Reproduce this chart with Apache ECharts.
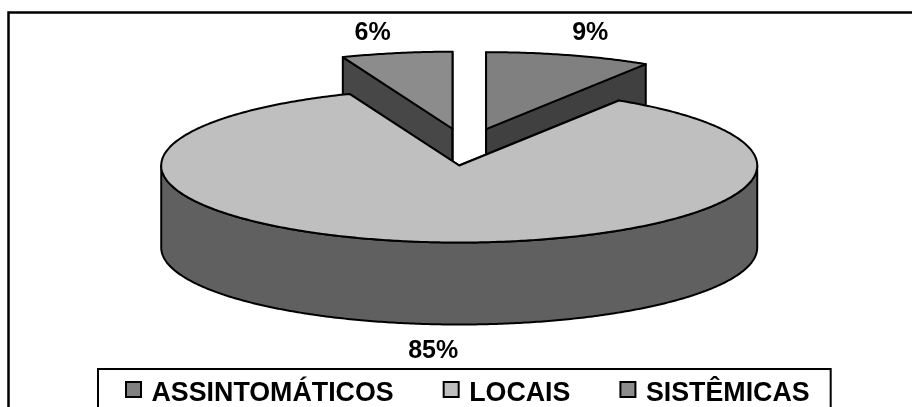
<!DOCTYPE html>
<html>
<head>
<meta charset="utf-8">
<style>html,body{margin:0;padding:0;background:#fff}#chart{width:912px;height:407px}</style>
<script src="https://cdn.jsdelivr.net/npm/echarts@6/dist/echarts.min.js"></script>
</head>
<body>
<div id="chart"></div>
<script>
// Share of cases by presentation, drawn as an exploded 3D pie.
const categories = ['ASSINTOMÁTICOS', 'LOCAIS', 'SISTÊMICAS'];
const shares = [9, 85, 6];
const topColors = ['#808080', '#bfbfbf', '#8c8c8c'];
const sideColors = ['#404040', '#606060', '#474747'];
const drawOrder = [1, 3, 2];
const labelNudges = [[21, -22], [2, 27], [-24, -20]];

const pie = { cx: 466, cy: 147, rx: 298, ry: 77, depth: 82, explode: 72 };
const total = shares.reduce((a, b) => a + b, 0);
const outline = { stroke: '#000', lineWidth: 2, lineJoin: 'round' };
const fontFamily = '"Liberation Sans", Arial, sans-serif';

function sliceAngles(index) {
  const before = shares.slice(0, index).reduce((a, b) => a + b, 0);
  return [before, before + shares[index]].map(v => v / total * Math.PI * 2);
}

function renderSlice(index, value) {
  const [a0, a1] = sliceAngles(index);
  const mid = (a0 + a1) / 2;
  const ox = pie.cx + pie.explode * Math.sin(mid);
  const oy = pie.cy - pie.explode * Math.cos(mid) * pie.ry / pie.rx;
  const rim = (a, drop) => [ox + pie.rx * Math.sin(a), oy - pie.ry * Math.cos(a) + (drop || 0)];
  const sample = (from, to) => {
    const steps = Math.max(2, Math.ceil(Math.abs(to - from) / 0.01));
    const pts = [];
    for (let i = 0; i <= steps; i++) pts.push(rim(from + (to - from) * i / steps));
    return pts;
  };
  const poly = (points, fill) => ({
    type: 'polygon', shape: { points }, style: Object.assign({ fill }, outline)
  });
  const children = [];
  const side = sideColors[index];

  // Radial walls, lowered by the pie's thickness.
  [a0, a1].forEach(a => {
    children.push(poly([[ox, oy], rim(a), rim(a, pie.depth), [ox, oy + pie.depth]], side));
  });

  // Front rim: only the part of the arc facing the viewer.
  const f0 = Math.max(a0, Math.PI / 2), f1 = Math.min(a1, Math.PI * 1.5);
  if (f1 > f0) {
    const upper = sample(f0, f1);
    const lower = upper.map(p => [p[0], p[1] + pie.depth]).reverse();
    children.push(poly(upper.concat(lower), side));
  }

  // Top face.
  children.push(poly([[ox, oy]].concat(sample(a0, a1)), topColors[index]));

  // Percentage label outside the rim.
  const anchor = rim(mid, Math.cos(mid) < 0 ? pie.depth : 0);
  children.push({
    type: 'text',
    style: {
      x: anchor[0] + labelNudges[index][0],
      y: anchor[1] + labelNudges[index][1],
      text: value + '%',
      fill: '#000',
      font: 'bold 25px ' + fontFamily,
      align: 'center',
      verticalAlign: 'middle'
    }
  });
  return { type: 'group', children };
}

const chart = echarts.init(document.getElementById('chart'), null, { renderer: 'canvas' });
chart.setOption({
  animation: false,
  backgroundColor: '#fff',
  graphic: [{
    type: 'rect',
    shape: { x: 8.5, y: 12.5, width: 1000, height: 500 },
    style: { fill: 'none', stroke: '#000', lineWidth: 2.5 },
    z: 0
  }],
  legend: {
    data: categories,
    icon: 'rect',
    left: 98,
    top: 369,
    orient: 'horizontal',
    padding: [11, 21, 60, 27],
    borderColor: '#000',
    borderWidth: 2,
    itemWidth: 15,
    itemHeight: 15,
    itemGap: 49,
    selectedMode: false,
    formatter: name => '{t|' + name + '}',
    textStyle: {
      color: '#000',
      fontFamily,
      fontWeight: 'bold',
      fontSize: 26.8,
      rich: {
        t: {
          color: '#000',
          fontFamily,
          fontWeight: 'bold',
          fontSize: 26.8,
          padding: [8, 0, 0, 5.5]
        }
      }
    },
    itemStyle: { borderColor: '#000', borderWidth: 2 }
  },
  series: categories.map((name, index) => ({
    type: 'custom',
    name,
    coordinateSystem: 'none',
    silent: true,
    z: drawOrder[index] + 1,
    itemStyle: { color: topColors[index] },
    data: [shares[index]],
    renderItem: (params, api) => renderSlice(index, api.value(0))
  }))
});
</script>
</body>
</html>
